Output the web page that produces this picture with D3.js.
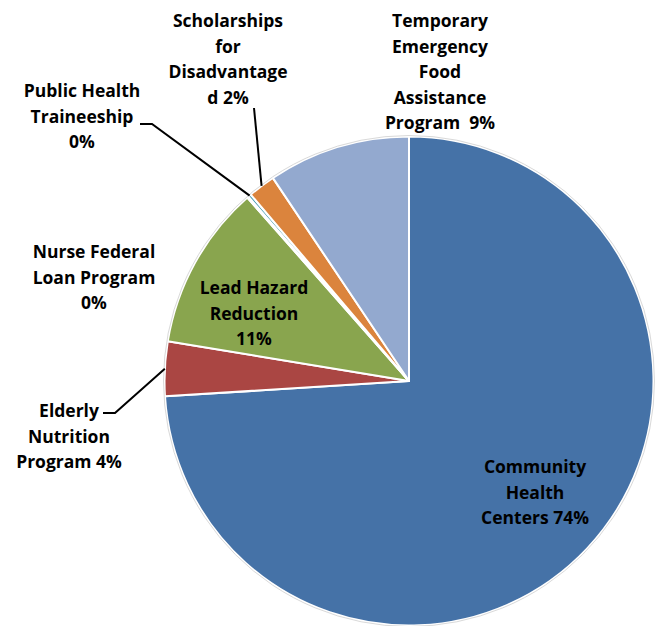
<!DOCTYPE html>
<html>
<head>
<meta charset="utf-8">
<script src="https://cdn.jsdelivr.net/npm/d3@7"></script>
<style>
  html, body { margin: 0; padding: 0; background: #ffffff; }
  svg { display: block; }
  .lbl { font-family: "Open Sans", Lato, sans-serif; font-weight: 700; font-size: 17.5px; fill: #000; }
</style>
</head>
<body>
<svg id="chart" width="662" height="626"></svg>
<script>
// Program shares (percent of total funding), in drawing order clockwise from 12 o'clock
const programs = [
  "Community Health Centers",
  "Elderly Nutrition Program",
  "Lead Hazard Reduction",
  "Nurse Federal Loan Program",
  "Public Health Traineeship",
  "Scholarships for Disadvantaged",
  "Temporary Emergency Food Assistance Program"
];
const shares = [74.0, 3.6, 10.9, 0.1, 0.2, 1.8, 9.4];
const colors = ["#4572A7", "#AA4643", "#89A54E", "#71588F", "#4198AF", "#DB843D", "#93A9CF"];

// Wrapped label text; {p} is replaced by the rounded share
const labelLines = [
  ["Community", "Health", "Centers {p}"],
  ["Elderly", "Nutrition", "Program {p}"],
  ["Lead Hazard", "Reduction", "{p}"],
  ["Nurse Federal", "Loan Program", "{p}"],
  ["Public Health", "Traineeship", "{p}"],
  ["Scholarships", "for", "Disadvantage", "d {p}"],
  ["Temporary", "Emergency", "Food", "Assistance", "Program  {p}"]
];

// Label placement: center of the first text line, plus optional leader line start
const labelLayout = [
  { x: 535, y: 466 },
  { x: 69, y: 410, leader: [[103, 413], [115, 413]] },
  { x: 254, y: 287 },
  { x: 94, y: 251 },
  { x: 82, y: 90, leader: [[140, 124], [152, 124]] },
  { x: 228, y: 20, leader: [[254, 108]] },
  { x: 440, y: 20 }
];

const cx = 409, cy = 381, R = 244.5, lineH = 25.5;

const svg = d3.select("#chart");
const g = svg.append("g").attr("transform", `translate(${cx},${cy})`);

const pie = d3.pie().sort(null).value(d => d.v);
const data = pie(shares.map((v, i) => ({ v, i })));
const arc = d3.arc().innerRadius(0).outerRadius(R);

g.selectAll("path.slice")
  .data(data)
  .join("path")
  .attr("class", "slice")
  .attr("d", arc)
  .attr("fill", d => colors[d.data.i])
  .attr("stroke", "#ffffff")
  .attr("stroke-width", 2)
  .attr("stroke-linejoin", "round");

// faint rim around the pie
g.append("circle").attr("r", R + 1).attr("fill", "none").attr("stroke", "#d9d9d9").attr("stroke-width", 1);

// leader lines from labels to the slice's outer edge
const leaderData = data.filter(d => labelLayout[d.data.i].leader);
svg.selectAll("path.leader")
  .data(leaderData)
  .join("path")
  .attr("class", "leader")
  .attr("fill", "none")
  .attr("stroke", "#000")
  .attr("stroke-width", 2)
  .attr("d", d => {
    const a = (d.startAngle + d.endAngle) / 2;
    const end = [cx + R * Math.sin(a), cy - R * Math.cos(a)];
    return d3.line()([...labelLayout[d.data.i].leader, end]);
  });

// labels
data.forEach(d => {
  const i = d.data.i;
  const pct = Math.round(shares[i]) + "%";
  const lay = labelLayout[i];
  const t = svg.append("text")
    .attr("class", "lbl")
    .attr("text-anchor", "middle")
    .attr("x", lay.x)
    .attr("y", lay.y)
    .attr("dominant-baseline", "central");
  labelLines[i].forEach((ln, k) => {
    t.append("tspan")
      .attr("x", lay.x)
      .attr("dy", k === 0 ? 0 : lineH)
      .attr("xml:space", "preserve")
      .text(ln.replace("{p}", pct));
  });
});
</script>
</body>
</html>
